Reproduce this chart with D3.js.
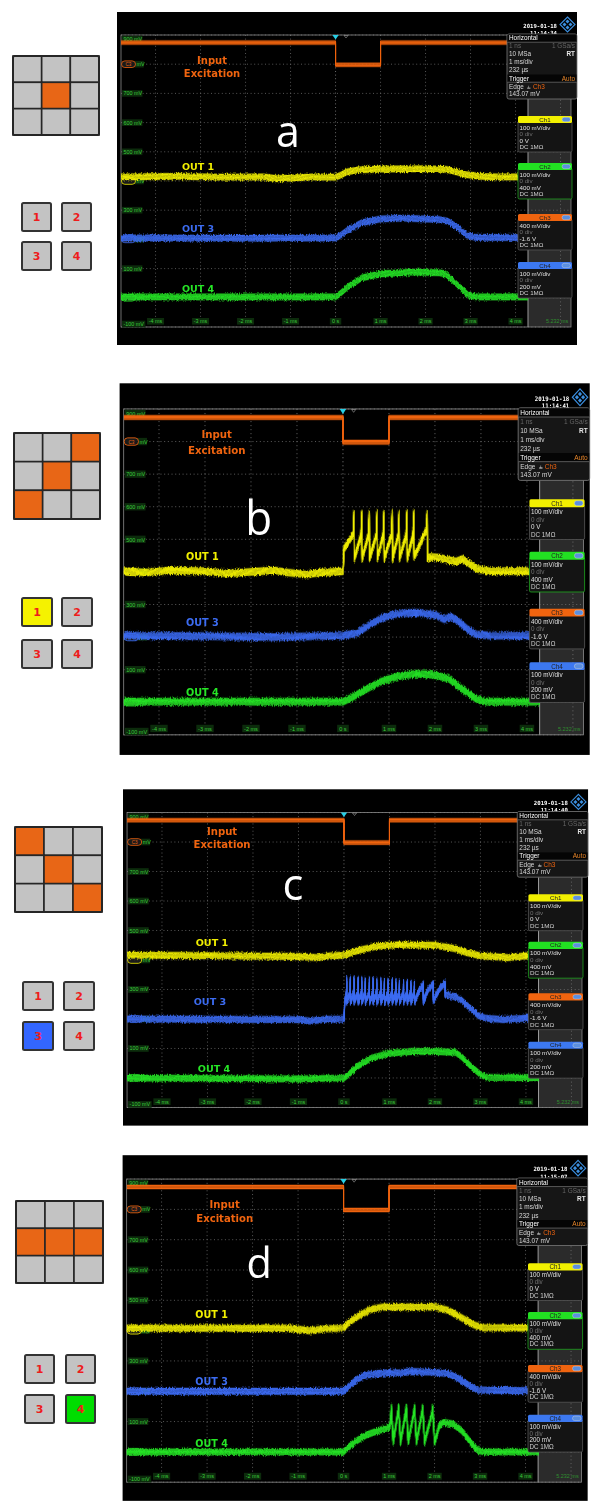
<!DOCTYPE html>
<html><head><meta charset="utf-8">
<script src="https://cdn.jsdelivr.net/npm/d3@7"></script>
<style>body{margin:0;background:#fff}svg{display:block}</style>
</head><body>
<svg id="chart" width="598" height="1507"></svg>
<script>
// ---------------- DATA ----------------
const tMin = -4.768, tMax = 5.232;
const gridTimes = [-4,-3,-2,-1,0,1,2,3,4,5];
const timeTicks = [-4,-3,-2,-1,0,1,2,3,4];
const timeTickLabels = ["-4 ms","-3 ms","-2 ms","-1 ms","0 s","1 ms","2 ms","3 ms","4 ms"];
const voltTicks = [900,800,700,600,500,400,300,200,100,0,-100];
const voltTickLabels = ["900 mV","800 mV","700 mV","600 mV","500 mV","400 mV","300 mV","200 mV","100 mV","0 mV","-100 mV"];
const panelLetters = ["a","b","c","d"];
const dates = ["2019-01-18","2019-01-18","2019-01-18","2019-01-18"];
const clockTimes = ["11:14:34","11:14:41","11:14:40","11:15:07"];
const excitedCells = [[4],[2,4,6],[0,4,8],[3,4,5]];
const selectedOut = [0,1,3,4];
const chNames = ["Ch1","Ch2","Ch3","Ch4"];
const chScale = ["100 mV/div","100 mV/div","400 mV/div","100 mV/div"];
const chDiv = ["0 div","0 div","0 div","0 div"];
const chOffset = ["0 V","400 mV","-1.6 V","200 mV"];
const chCoupling = ["DC 1M\u03a9","DC 1M\u03a9","DC 1M\u03a9","DC 1M\u03a9"];
const horizLines = [["1 ns","1 GSa/s"],["10 MSa","RT"],["1 ms/div",""],["232 \u00b5s",""]];
const triggerLines = ["Edge","143.07 mV"];
const markerLevels = [800,400,200,0];
const markerTags = ["C3","","",""];

// Input excitation (orange, Ch3) – same in each capture
const excitation = [[-4.768,874],[0,874],[0,798],[1,798],[1,874],[5.232,874]];

// Panel a
const aOut1 = [[-4.768,414],[-3.5,416],[-2.5,413],[-1.6,414],[-1.3,408],[-1.0,410],[-0.5,414],[0,413],[0.1,419],[0.25,431],[0.5,438],[1,441],[2.0,442],[2.45,440],[2.65,433],[2.9,422],[3.2,416],[3.6,414],[5.232,414]];
const aOut3 = [[-4.768,205],[-2,204],[0,205],[0.1,213],[0.27,232],[0.58,257],[1,270],[1.5,273],[2.3,268],[2.5,262],[2.7,242],[2.9,216],[3.1,207],[5.232,205]];
const aOut4 = [[-4.768,3],[0,3],[0.1,14],[0.27,37],[0.58,68],[1,82],[1.7,88],[2.3,86],[2.45,81],[2.7,46],[2.95,9],[3.15,3],[5.232,3]];

// Panel b (OUT 1 spiking)
const bOut1 = [[-4.768,402],[-4.3,398],[-3.8,404],[-3,402],[-2.5,395],[-2.0,400],[-1.5,405],[-1.2,398],[-0.8,392],[-0.5,398],[-0.2,400],[0,402],
  [0.02,470],[0.22,515],[0.24,580],[0.245,440],[0.39,512],[0.41,580],[0.415,440],[0.55,512],[0.57,580],[0.575,440],
  [0.72,512],[0.74,580],[0.745,440],[0.87,512],[0.89,580],[0.895,440],[1.05,512],[1.07,580],[1.075,440],
  [1.20,512],[1.22,580],[1.225,440],[1.37,512],[1.39,580],[1.395,440],[1.52,512],[1.54,580],[1.545,445],
  [1.81,530],[1.83,580],[1.835,442],[1.9,446],[2.1,444],[2.3,436],[2.45,432],[2.6,440],[2.75,425],[2.9,410],[3.2,402],[4,402],[5.232,402]];
const bOut3 = [[-4.768,205],[-3,203],[-1.5,200],[-0.5,203],[0,205],[0.3,212],[0.6,240],[0.9,262],[1.2,272],[1.6,275],[2.0,268],[2.2,255],[2.35,262],[2.5,250],[2.7,225],[2.9,208],[3.2,205],[5.232,203]];
const bOut4 = [[-4.768,2],[0,2],[0.2,15],[0.5,40],[0.8,62],[1.2,80],[1.6,88],[2.0,84],[2.3,72],[2.6,40],[2.9,10],[3.1,2],[5.232,2]];

// Panel c (OUT 3 spiking)
const cOut1 = [[-4.768,417],[-3,415],[-1,412],[-0.6,408],[-0.3,414],[0,417],[0.3,432],[0.7,446],[1.2,452],[2.0,450],[2.4,440],[2.7,425],[3.0,414],[3.6,408],[4,414],[5.232,412]];
const cOut3 = [[-4.768,200],[-1,198],[-0.75,193],[-0.4,199],[0,200],[0.02,262],
  [0.055,290],[0.06,336],[0.062,256],[0.135,290],[0.14,336],[0.142,256],[0.215,290],[0.22,336],[0.222,256],
  [0.305,290],[0.31,336],[0.312,256],[0.385,290],[0.39,335],[0.392,256],[0.465,290],[0.47,334],[0.472,256],
  [0.555,290],[0.56,334],[0.562,256],[0.635,290],[0.64,333],[0.642,256],[0.715,290],[0.72,332],[0.722,256],
  [0.805,290],[0.81,332],[0.812,256],[0.885,290],[0.89,331],[0.892,256],[0.965,290],[0.97,330],[0.972,256],
  [1.055,290],[1.06,330],[1.062,256],[1.135,290],[1.14,328],[1.142,256],[1.215,290],[1.22,327],[1.222,256],
  [1.305,290],[1.31,326],[1.312,256],[1.385,290],[1.39,325],[1.392,256],[1.465,290],[1.47,324],[1.472,256],
  [1.545,290],[1.55,322],[1.552,258],[1.65,296],[1.74,318],[1.745,260],[1.85,300],[1.96,320],[1.965,262],
  [2.1,302],[2.22,322],[2.225,282],[2.4,277],[2.55,268],[2.75,240],[2.95,212],[3.1,203],[3.5,198],[4,203],[5.232,200]];
const cOut4 = [[-4.768,0],[-1,-3],[0,0],[0.1,12],[0.3,40],[0.6,68],[1.0,84],[1.5,90],[2.0,90],[2.45,87],[2.6,70],[2.8,38],[3.0,12],[3.15,2],[5.232,0]];

// Panel d (OUT 4 spiking)
const dOut1 = [[-4.768,408],[-1.2,408],[-0.75,400],[-0.4,406],[0,408],[0.1,425],[0.35,451],[0.6,470],[0.86,478],[2.0,478],[2.3,467],[2.6,442],[2.85,420],[3.05,410],[5.232,408]];
const dOut3 = [[-4.768,200],[0,200],[0.1,215],[0.3,240],[0.5,254],[1.0,262],[1.2,260],[1.5,265],[2.0,263],[2.3,258],[2.5,245],[2.75,220],[2.95,204],[5.232,200]];
const dOut4 = [[-4.768,0],[0,0],[0.1,15],[0.3,38],[0.5,56],[0.78,71],[1.0,81],[1.03,95],[1.05,148],[1.09,32],[1.19,125],[1.21,148],[1.25,32],
  [1.36,125],[1.38,148],[1.42,32],[1.54,125],[1.56,148],[1.6,32],[1.72,125],[1.74,148],[1.78,32],[1.94,125],[1.96,148],[2.0,30],
  [2.1,85],[2.2,98],[2.4,92],[2.6,70],[2.8,30],[2.95,5],[3.1,0],[5.232,0]];

const traces = [
  {o1:aOut1,o3:aOut3,o4:aOut4},
  {o1:bOut1,o3:bOut3,o4:bOut4},
  {o1:cOut1,o3:cOut3,o4:cOut4},
  {o1:dOut1,o3:dOut3,o4:dOut4}
];

// ---------------- LAYOUT ----------------
const COL = {yellow:"#f2f000", blue:"#3c6cf2", green:"#26e626", orange:"#f0640f", cyan:"#27cfe6"};
const panels = [
  {ox:117, oy:12,   kx:1.000, ky:1.000, exc:[95,48,61], letter:[171,135,43], o1:[81,154], o3:[81,216], o4:[81,276]},
  {ox:119.6, oy:383.3, kx:1.022, ky:1.116, exc:[95,46,60], letter:[136,136,43], o1:[81,155], o3:[81,214], o4:[81,277]},
  {ox:123, oy:789.3, kx:1.011, ky:1.010, exc:[98,42,55], letter:[168,110,43], o1:[88,152], o3:[86,210], o4:[90,276]},
  {ox:122.6, oy:1155.2, kx:1.011, ky:1.038, exc:[101,47,60], letter:[135,118,41], o1:[88,153], o3:[88,218], o4:[88,278]}
];
const side = [
  {grid:[13,56,86,79], boxes:[[22,203],[62,203],[22,242],[62,242]], bw:29, bh:28},
  {grid:[14,433,86,86], boxes:[[22,598],[62,598],[22,640],[62,640]], bw:30, bh:28},
  {grid:[15,827,87,85], boxes:[[23,982],[64,982],[23,1022],[64,1022]], bw:30, bh:28},
  {grid:[16,1201,87,82], boxes:[[25,1355],[66,1355],[25,1395],[66,1395]], bw:29, bh:28}
];
const selColors = {1:"#f5f200",3:"#3366ff",4:"#00dd00"};

const svg = d3.select("#chart");
const FONT = "'Liberation Sans', Arial, sans-serif";

// visual fuzz filter for scope traces (styling only, vertical jitter)
const defs = svg.append("defs");
const flt = defs.append("filter").attr("id","fuzz").attr("x","-2%").attr("y","-10%").attr("width","104%").attr("height","120%");
flt.append("feTurbulence").attr("type","fractalNoise").attr("baseFrequency","1.4 0.45").attr("numOctaves",1).attr("seed",3).attr("result","n");
flt.append("feColorMatrix").attr("in","n").attr("type","matrix")
  .attr("values","0 0 0 0 0.5  0 1 0 0 0  0 0 0 0 0.5  0 0 0 0 1").attr("result","nm");
flt.append("feDisplacementMap").attr("in","SourceGraphic").attr("in2","nm").attr("scale",4.5)
  .attr("xChannelSelector","R").attr("yChannelSelector","G");

function drawTrace(g, pts, color, x, y, band, op) {
  const line = d3.line().x(d => x(d[0])).y(d => y(d[1]));
  const dstr = line(pts);
  const n = Math.round(band / 0.8);
  for (let i = 0; i <= n; i++) {
    const o = -band/2 + i*band/n;
    g.append("path").attr("d", dstr).attr("transform", `translate(0,${o})`)
      .attr("fill","none").attr("stroke", color).attr("stroke-width", 1).attr("opacity", op);
  }
  g.append("path").attr("d", dstr).attr("transform", `translate(0,${-band/2-0.8})`).attr("fill","none").attr("stroke",color).attr("stroke-width",0.8).attr("opacity",0.35);
  g.append("path").attr("d", dstr).attr("transform", `translate(0,${band/2+0.8})`).attr("fill","none").attr("stroke",color).attr("stroke-width",0.8).attr("opacity",0.35);
}

panels.forEach((P, pi) => {
  const g = svg.append("g").attr("transform", `translate(${P.ox},${P.oy}) scale(${P.kx},${P.ky})`);
  g.append("rect").attr("width",460).attr("height",333).attr("fill","#000");
  const x = d3.scaleLinear().domain([tMin,tMax]).range([4,454]);
  const y = d3.scaleLinear().domain([900,-100]).range([23,315]);

  // overlay region on right
  g.append("rect").attr("x",411).attr("y",87).attr("width",43).attr("height",228).attr("fill","#2b2b2b");

  // grid
  const grid = g.append("g");
  grid.selectAll("line.h").data(voltTicks).join("line")
    .attr("x1",4).attr("x2",454).attr("y1",d=>y(d)).attr("y2",d=>y(d))
    .attr("stroke","#7a7a7a").attr("stroke-width",0.7).attr("stroke-dasharray","1,2.6");
  grid.selectAll("line.v").data(gridTimes).join("line")
    .attr("y1",23).attr("y2",315).attr("x1",d=>x(d)).attr("x2",d=>x(d))
    .attr("stroke",d=>d===0?"#9a9a9a":"#7a7a7a").attr("stroke-width",0.7).attr("stroke-dasharray","1,2.6");
  g.append("rect").attr("x",4).attr("y",23).attr("width",450).attr("height",292)
    .attr("fill","none").attr("stroke","#888").attr("stroke-width",0.8);
  g.append("line").attr("x1",411).attr("x2",411).attr("y1",87).attr("y2",315).attr("stroke","#9a9a9a").attr("stroke-width",1);

  // volt labels (those hidden under a channel marker show only their unit)
  voltTicks.forEach((v,i) => {
    let cy = y(v); if (i===0) cy += 4; if (i===voltTicks.length-1) cy -= 3;
    const covered = markerLevels.includes(v);
    const txt = covered ? "mV" : voltTickLabels[i];
    const lx = covered ? 19.5 : 6.5;
    const w = txt.length*2.9+3;
    g.append("rect").attr("x",lx-1.5).attr("y",cy-3.3).attr("width",w).attr("height",6.6).attr("fill","#0c2c0c");
    g.append("text").attr("x",lx).attr("y",cy+2).text(txt)
      .attr("font-family",FONT).attr("font-size",5.4).attr("fill","#3ccc3c");
  });
  // time labels
  timeTicks.forEach((t,i) => {
    const w = timeTickLabels[i].length*2.8+3;
    g.append("rect").attr("x",x(t)-w/2).attr("y",306).attr("width",w).attr("height",6.6).attr("fill","#0c2c0c");
    g.append("text").attr("x",x(t)).attr("y",311.3).attr("text-anchor","middle").text(timeTickLabels[i])
      .attr("font-family",FONT).attr("font-size",5.4).attr("fill","#3ccc3c");
  });
  g.append("text").attr("x",440).attr("y",311.3).attr("text-anchor","middle").text("5.232 ms")
    .attr("font-family",FONT).attr("font-size",5.4).attr("fill","#2f8f2f");

  // channel ground markers
  const mcol = [COL.orange, COL.yellow, COL.blue, COL.green];
  markerLevels.forEach((lv,i) => {
    g.append("rect").attr("x",4.5).attr("y",y(lv)-3.3).attr("width",14).attr("height",6.6).attr("rx",3.3)
      .attr("fill","#1a1a1a").attr("stroke",mcol[i]).attr("stroke-width",0.8);
    if (markerTags[i]) g.append("text").attr("x",11.5).attr("y",y(lv)+1.8).attr("text-anchor","middle").text(markerTags[i])
      .attr("font-family",FONT).attr("font-size",4.5).attr("fill",mcol[i]);
  });

  // traces (clipped)
  const cid = "clip"+pi;
  g.append("clipPath").attr("id",cid).append("rect").attr("x",4).attr("y",23).attr("width",407).attr("height",292);
  const tg = g.append("g").attr("clip-path",`url(#${cid})`).append("g").attr("filter","url(#fuzz)");
  const T = traces[pi];
  drawTrace(tg, T.o4, COL.green, x, y, 5.4, 0.95);
  drawTrace(tg, T.o3, COL.blue, x, y, 5.4, 0.95);
  drawTrace(tg, T.o1, COL.yellow, x, y, 5.4, 0.95);
  const og = g.append("g").attr("clip-path",`url(#${cid})`);
  drawTrace(og, excitation, COL.orange, x, y, 3.0, 1);

  // trigger markers
  const tx = x(0);
  g.append("path").attr("d",`M${tx-3.2},23 L${tx+3.2},23 L${tx},27.5 Z`).attr("fill",COL.cyan);
  const hx = x(0.232);
  g.append("path").attr("d",`M${hx-2},23.5 L${hx+2},23.5 L${hx},26 Z`).attr("fill","none").attr("stroke","#999").attr("stroke-width",0.6);

  // labels
  const lab = (txt, xx, yy, col, fs) => g.append("text").attr("x",xx).attr("y",yy).attr("text-anchor","middle")
    .attr("font-family","'DejaVu Sans', Verdana, sans-serif").attr("font-weight","bold").attr("font-size",fs)
    .attr("fill",col).attr("dominant-baseline","central").text(txt);
  lab("Input", P.exc[0], P.exc[1], COL.orange, 10);
  lab("Excitation", P.exc[0], P.exc[2], COL.orange, 10);
  lab("OUT 1", P.o1[0], P.o1[1], COL.yellow, 9.5);
  lab("OUT 3", P.o3[0], P.o3[1], COL.blue, 9.5);
  lab("OUT 4", P.o4[0], P.o4[1], COL.green, 9.5);
  g.append("text").attr("x",P.letter[0]).attr("y",P.letter[1]).attr("text-anchor","middle")
    .attr("font-family","'Open Sans', sans-serif").attr("font-size",P.letter[2]).attr("fill","#fff").text(panelLetters[pi]);

  // date and logo
  g.append("text").attr("x",440).attr("y",15.5).attr("text-anchor","end").text(dates[pi])
    .attr("font-family","'DejaVu Sans Mono', monospace").attr("font-weight","bold").attr("font-size",5.6).attr("fill","#fff");
  g.append("text").attr("x",440).attr("y",22.5).attr("text-anchor","end").text(clockTimes[pi])
    .attr("font-family","'DejaVu Sans Mono', monospace").attr("font-weight","bold").attr("font-size",5.6).attr("fill","#fff");
  const lg = g.append("g").attr("transform","translate(450.5,12.5)");
  lg.append("path").attr("d","M0,-7.5 L7.5,0 L0,7.5 L-7.5,0 Z").attr("fill","none").attr("stroke","#3b8fe0").attr("stroke-width",1.1);
  [[0,-3],[3,0],[0,3],[-3,0]].forEach(p => lg.append("path")
    .attr("d",`M${p[0]},${p[1]-2} L${p[0]+2},${p[1]} L${p[0]},${p[1]+2} L${p[0]-2},${p[1]} Z`).attr("fill","#3b8fe0"));

  // Horizontal box
  const hb = g.append("g").attr("transform","translate(390,22)");
  hb.append("rect").attr("width",70).attr("height",65).attr("rx",2).attr("fill","#161616").attr("stroke","#7a7a7a").attr("stroke-width",0.8);
  hb.append("rect").attr("x",0.5).attr("y",0.5).attr("width",69).attr("height",7.5).attr("fill","#050505");
  const ht = (s, xx, yy, col, anchor, w) => hb.append("text").attr("x",xx).attr("y",yy).attr("text-anchor",anchor||"start")
    .attr("font-family",FONT).attr("font-size",6.4).attr("font-weight",w||"normal").attr("fill",col).text(s);
  ht("Horizontal", 2, 6.3, "#fff");
  hb.append("line").attr("x1",0.5).attr("x2",69.5).attr("y1",8.2).attr("y2",8.2).attr("stroke","#999").attr("stroke-width",0.5);
  horizLines.forEach((r,i) => {
    const dim = i===0;
    ht(r[0], 2, 14.3+i*8, dim?"#666":"#d8d8d8");
    if (r[1]) ht(r[1], 68, 14.3+i*8, dim?"#666":"#e8e8e8", "end", i===1?"bold":"normal");
  });
  hb.append("rect").attr("x",0.5).attr("y",40.5).attr("width",69).attr("height",7.5).attr("fill","#050505");
  hb.append("line").attr("x1",0.5).attr("x2",69.5).attr("y1",48.2).attr("y2",48.2).attr("stroke","#999").attr("stroke-width",0.5);
  ht("Trigger", 2, 46.5, "#fff");
  ht("Auto", 68, 46.5, "#e8862a", "end");
  ht("Edge", 2, 54.5, "#d8d8d8");
  ht("\u2ae8", 20, 54.5, "#d8d8d8");
  ht("Ch3", 26, 54.5, COL.orange);
  ht(triggerLines[1], 2, 62.3, "#d8d8d8");

  // channel boxes
  const chTops = [104,151,202,250];
  const chCols = [COL.yellow, "#22e022", COL.orange, "#3c78f0"];
  chTops.forEach((top,i) => {
    const cg = g.append("g").attr("transform",`translate(401,${top})`);
    cg.append("rect").attr("y",5).attr("width",54).attr("height",31).attr("rx",1.5).attr("fill","#141414")
      .attr("stroke", i===1 ? "#1fa01f" : "#555").attr("stroke-width",0.8);
    cg.append("rect").attr("width",54).attr("height",7).attr("rx",1.5).attr("fill",chCols[i]);
    cg.append("text").attr("x",27).attr("y",5.6).attr("text-anchor","middle").text(chNames[i])
      .attr("font-family",FONT).attr("font-size",6.2).attr("fill","#222");
    cg.append("rect").attr("x",44).attr("y",1.3).attr("width",8.5).attr("height",4.4).attr("rx",2.2).attr("fill","#5b8fe0").attr("stroke","#ddd").attr("stroke-width",0.4);
    const lines = [[chScale[i],"#e0e0e0"],[chDiv[i],"#707070"],[chOffset[i],"#e0e0e0"],[chCoupling[i],"#d0d0d0"]];
    lines.forEach((l,j) => cg.append("text").attr("x",1.5).attr("y",13.5+j*6.6).text(l[0])
      .attr("font-family",FONT).attr("font-size",6.2).attr("fill",l[1]));
  });
});

// ---------------- SIDE WIDGETS ----------------
side.forEach((S, si) => {
  const [gx, gy, gw, gh] = S.grid;
  const cw = gw/3, chh = gh/3;
  const sg = svg.append("g");
  d3.range(9).forEach(k => {
    const r = Math.floor(k/3), c = k%3;
    sg.append("rect").attr("x",gx+c*cw).attr("y",gy+r*chh).attr("width",cw).attr("height",chh)
      .attr("fill", excitedCells[si].includes(k) ? "#e86616" : "#c3c3c3")
      .attr("stroke","#262626").attr("stroke-width",1.6);
  });
  sg.append("rect").attr("x",gx).attr("y",gy).attr("width",gw).attr("height",gh).attr("rx",1.5)
    .attr("fill","none").attr("stroke","#262626").attr("stroke-width",2);
  S.boxes.forEach((b,i) => {
    const n = i+1;
    const fill = selectedOut[si]===n ? selColors[n] : "#c3c3c3";
    sg.append("rect").attr("x",b[0]).attr("y",b[1]).attr("width",S.bw).attr("height",S.bh).attr("rx",1.5)
      .attr("fill",fill).attr("stroke","#333").attr("stroke-width",2);
    sg.append("text").attr("x",b[0]+S.bw/2).attr("y",b[1]+S.bh/2+4).attr("text-anchor","middle")
      .attr("font-family","'DejaVu Sans', sans-serif").attr("font-weight","bold").attr("font-size",11)
      .attr("fill","#ee1c1c").text(n);
  });
});
</script>
</body></html>
